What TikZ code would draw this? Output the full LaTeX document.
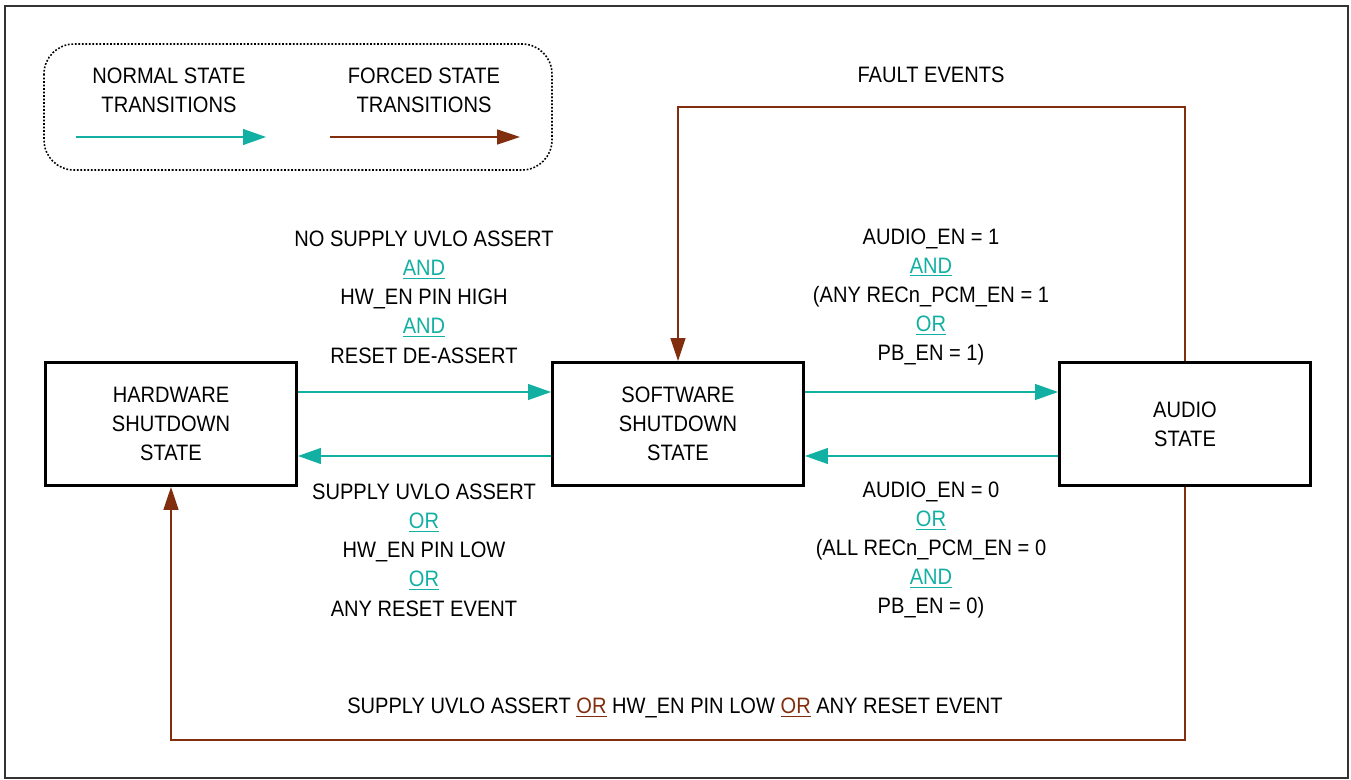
\documentclass[tikz,border=0pt]{standalone}
\usepackage{fontspec}
\setmainfont{Liberation Sans}[FakeStretch=0.9]
\usetikzlibrary{arrows.meta}
\definecolor{normalc}{RGB}{18,176,162}
\definecolor{forcedc}{RGB}{128,46,14}
\newcommand{\statefont}{\fontsize{12.7}{16.6}\selectfont}
\newcommand{\normaland}{\textcolor{normalc}{\underline{AND}}}
\newcommand{\normalor}{\textcolor{normalc}{\underline{OR}}}
\newcommand{\forcedor}{\textcolor{forcedc}{\underline{OR}}}
\tikzset{
  state/.style={rectangle, draw=black, line width=1.7pt, minimum width=5.02cm, minimum height=2.46cm, align=center, font=\statefont},
  cond/.style={align=center, inner sep=0pt, font=\statefont},
  normal/.style={normalc, line width=0.85pt, -{Triangle[length=13pt, width=9pt]}},
  forced/.style={forcedc, line width=0.85pt, -{Triangle[length=13pt, width=8.5pt]}},
  legendbox/.style={draw=black, dash pattern=on 1pt off 1pt, line width=0.9pt, rounded corners=0.6cm}
}

\begin{document}
\begin{tikzpicture}[x=0.02cm, y=-0.02cm]
    \useasboundingbox (0,0) rectangle (1351,780);
    \draw[black!80, line width=0.7pt] (5,6) rectangle (1348,778);

    % ==========================================
    % 1. LEYENDA
    % ==========================================
    \draw[legendbox] (44,44) rectangle (552,170);
    \node[cond] (lnormal) at (169,90) {NORMAL STATE\\TRANSITIONS};
    \node[cond] (lforced) at (424,90) {FORCED STATE\\TRANSITIONS};
    \coordinate (ln1) at (76,137);
    \coordinate (ln2) at (266,137);
    \coordinate (lf1) at (330,137);
    \coordinate (lf2) at (520,137);
    \draw[normal] (ln1) -- (ln2);
    \draw[forced] (lf1) -- (lf2);

    % ==========================================
    % 2. ESTADOS
    % ==========================================
    \node[state] (hw) at (171,424) {HARDWARE\\SHUTDOWN\\STATE};
    \node[state] (sw) at (678,424) {SOFTWARE\\SHUTDOWN\\STATE};
    \node[state] (audio) at (1185,424) {AUDIO\\STATE};

    % --- Transiciones normales ---
    \draw[normal] ([yshift=0.64cm]hw.east) -- ([yshift=0.64cm]sw.west);
    \draw[normal] ([yshift=-0.64cm]sw.west) -- ([yshift=-0.64cm]hw.east);
    \draw[normal] ([yshift=0.64cm]sw.east) -- ([yshift=0.64cm]audio.west);
    \draw[normal] ([yshift=-0.64cm]audio.west) -- ([yshift=-0.64cm]sw.east);

    % --- Condiciones ---
    \node[cond] (hwup) at (424,297) {NO SUPPLY UVLO ASSERT\\\normaland\\HW\_EN PIN HIGH\\\normaland\\RESET DE-ASSERT};
    \node[cond] (hwdown) at (424,550) {SUPPLY UVLO ASSERT\\\normalor\\HW\_EN PIN LOW\\\normalor\\ANY RESET EVENT};
    \node[cond] (audioup) at (931,297) {AUDIO\_EN = 1\\\normaland\\(ANY RECn\_PCM\_EN = 1\\\normalor\\PB\_EN = 1)};
    \node[cond] (audiodown) at (931,550) {AUDIO\_EN = 0\\\normalor\\(ALL RECn\_PCM\_EN = 0\\\normaland\\PB\_EN = 0)};

    % ==========================================
    % 3. TRANSICIONES FORZADAS
    % ==========================================
    \coordinate (ftop) at (931,107);
    \draw[forced] (audio.north) |- (ftop) -| (sw.north);
    \node[cond] (fault) at (931,75) {FAULT EVENTS};

    \coordinate (fbot) at (675,740);
    \draw[forced] (audio.south) |- (fbot) -| (hw.south);
    \node[cond] (reset) at (675,708) {SUPPLY UVLO ASSERT \forcedor{} HW\_EN PIN LOW \forcedor{} ANY RESET EVENT};

\end{tikzpicture}
\end{document}
